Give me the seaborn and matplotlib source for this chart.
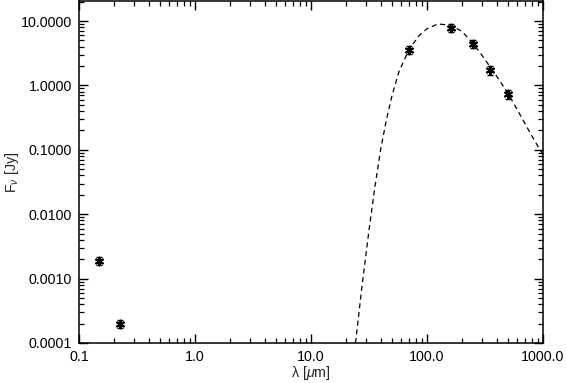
import matplotlib
matplotlib.use("Agg")
import matplotlib.pyplot as plt
import matplotlib.ticker as mticker
import seaborn as sns
import pandas as pd

# ---- photometry (wavelength in micron, flux in Jy) ----
wave = [0.15, 0.225, 70.0, 160.0, 250.0, 350.0, 500.0]
flux = [0.0019, 0.0002, 3.6, 7.8, 4.4, 1.72, 0.74]
flux_err = [0.00025, 0.00003, 0.55, 1.1, 0.6, 0.25, 0.12]

# ---- model curve ----
model_wave = [24.2, 27.5, 31.6, 35.5, 39.8, 44.7, 50.1, 57.5, 70.0, 86.0,
              100.0, 124.0, 160.0, 200.0, 250.0, 300.0, 350.0, 400.0, 500.0,
              600.0, 700.0, 800.0, 900.0, 1000.0]
model_flux = [0.0001, 0.00076, 0.0056, 0.026, 0.10, 0.295, 0.71, 1.66, 3.63, 6.03,
              7.59, 9.02, 8.61, 6.92, 4.47, 2.88, 1.95, 1.38, 0.75,
              0.42, 0.255, 0.165, 0.115, 0.085]

phot = pd.DataFrame({"wave": wave, "flux": flux, "err": flux_err})
model = pd.DataFrame({"wave": model_wave, "flux": model_flux})

sns.set_style("ticks")
plt.rcParams["font.family"] = ["Liberation Sans", "DejaVu Sans"]
plt.rcParams["mathtext.fontset"] = "custom"
plt.rcParams["mathtext.rm"] = "Liberation Sans"
plt.rcParams["mathtext.it"] = "Liberation Sans:italic"

fig = plt.figure(figsize=(5.66, 3.83), dpi=100)
ax = fig.add_axes([79 / 566, 1 - 343 / 383, (543 - 79) / 566, 342 / 383])

sns.lineplot(data=model, x="wave", y="flux", ax=ax, color="black",
             linewidth=0.9, linestyle=(0, (4, 3)), sort=False, estimator=None)

ax.errorbar(phot["wave"], phot["flux"], yerr=phot["err"], fmt="none",
            ecolor="black", elinewidth=1.0, capsize=2.5, capthick=1.0)
sns.scatterplot(data=phot, x="wave", y="flux", ax=ax, marker=(6, 2, 0),
                s=30, color="black", linewidth=1.5, edgecolor="black")

ax.set_xscale("log")
ax.set_yscale("log")
ax.set_xlim(0.1, 1000)
ax.set_ylim(1e-4, 20.5)

ax.xaxis.set_major_locator(mticker.LogLocator(base=10, numticks=10))
ax.yaxis.set_major_locator(mticker.LogLocator(base=10, numticks=10))
ax.xaxis.set_minor_locator(mticker.LogLocator(base=10, subs=range(2, 10), numticks=20))
ax.yaxis.set_minor_locator(mticker.LogLocator(base=10, subs=range(2, 10), numticks=20))
ax.xaxis.set_major_formatter(mticker.FuncFormatter(lambda v, p: "%.1f" % v))
ax.yaxis.set_major_formatter(mticker.FuncFormatter(lambda v, p: "%.4f" % v))
ax.xaxis.set_minor_formatter(mticker.NullFormatter())
ax.yaxis.set_minor_formatter(mticker.NullFormatter())

ax.tick_params(which="both", direction="in", top=True, right=True,
               labelsize=10.3, color="black", labelcolor="black")
ax.tick_params(which="major", length=6.5, width=1.0, pad=5)
ax.tick_params(which="minor", length=3.5, width=0.9)
for s in ax.spines.values():
    s.set_visible(True)
    s.set_linewidth(1.1)
    s.set_color("black")

ax.set_xlabel(r"λ [$\mu$m]", fontsize=10.3, labelpad=0)
ax.set_ylabel(r"F$_\nu$ [Jy]", fontsize=10.3)
ax.yaxis.set_label_coords(-0.125, 0.5)

fig.savefig("out.png", dpi=100)
